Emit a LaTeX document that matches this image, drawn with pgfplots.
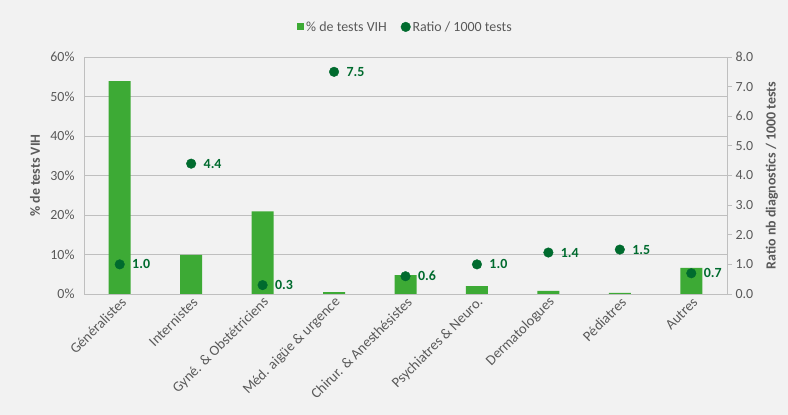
\documentclass[border=0pt]{standalone}
\usepackage{pgfplots}
\pgfplotsset{compat=1.18}
\usepackage{pgfplotstable}
\usepackage{fontspec}
\setmainfont{Carlito}

\definecolor{bg}{HTML}{F2F2F2}
\definecolor{barg}{HTML}{3DAA35}
\definecolor{dotg}{HTML}{006B2E}
\definecolor{txt}{HTML}{595959}
\definecolor{gridc}{HTML}{BFBFBF}

% x: category index, pct: % de tests VIH, ratio: ratio / 1000 tests
\pgfplotstableread{
x pct ratio
0 53.9 1.0
1 9.9  4.4
2 20.9 0.3
3 0.5  7.5
4 4.8  0.6
5 2.0  1.0
6 0.8  1.4
7 0.3  1.5
8 6.6  0.7
}\data

\pgfplotsset{
  common/.style={
    scale only axis, width=643bp, height=237bp,
    at={(84bp,121bp)}, anchor=south west,
    xmin=-0.5, xmax=8.5,
    ymin=0,
    tick label style={font=\fontsize{14}{16}\selectfont, text=txt},
    label style={font=\fontsize{14}{16}\selectfont\bfseries, text=txt},
    /pgf/number format/assume math mode=true,
  }
}

\begin{document}
\begin{tikzpicture}
\fill[bg] (0,0) rectangle (788bp,415bp);
\useasboundingbox (0,0) rectangle (788bp,415bp);

\begin{axis}[common,
  ymax=60, ytick={0,10,...,60},
  yticklabel={\pgfmathprintnumber{\tick}\%},
  yticklabel style={xshift=-6bp},
  axis x line*=bottom, axis y line*=left,
  axis line style={draw=gridc, line width=0.8pt},
  ymajorgrids, grid style={draw=gridc, line width=0.8pt},
  major tick length=0pt,
  xtick={0,...,8},
  xticklabels={Généralistes, Internistes, Gyné. \& Obstétriciens, Méd. aigüe \& urgence, Chirur. \& Anesthésistes, Psychiatres \& Neuro., Dermatologues, Pédiatres, Autres},
  xticklabel style={rotate=45, anchor=east, yshift=-7bp, xshift=2bp,
    font=\fontsize{14.5}{16}\selectfont},
  ylabel={\% de tests VIH},
  ylabel style={at={(axis description cs:-0.076,0.5)}, anchor=center},
  legend columns=2,
  legend style={at={(0.5,1.127)}, anchor=center, draw=none, fill=none,
    font=\fontsize{14}{16}\selectfont, text=txt,
    /tikz/every even column/.append style={column sep=12bp}},
]
\addplot[ybar, bar width=22bp, fill=barg, draw=none,
  legend image code/.code={\fill[barg] (0bp,-3.5bp) rectangle (7bp,3.5bp);}]
  table[x=x, y=pct] {\data};
\addlegendentry{\% de tests VIH}
\addlegendimage{only marks, mark=*, mark size=4.8bp, dotg}
\addlegendentry{Ratio / 1000 tests}
\end{axis}

\begin{axis}[common,
  ymax=8, ytick={0,1,...,8},
  /pgf/number format/.cd, fixed, fixed zerofill, precision=1, /pgfplots/.cd,
  axis x line=none, axis y line*=right,
  axis line style={draw=gridc, line width=0.8pt},
  ytick style={draw=gridc, line width=0.8pt},
  tick align=outside, major tick length=5bp,
  ylabel={Ratio nb diagnostics / 1000 tests},
  ylabel style={at={(axis description cs:1.070,0.5)}, anchor=center},
]
\addplot[only marks, mark=*, mark size=4.8bp, color=dotg,
  point meta=explicit,
  nodes near coords={\pgfmathprintnumber[fixed,fixed zerofill,precision=1]{\pgfplotspointmeta}},
  every node near coord/.append style={anchor=west, xshift=9bp,
    font=\fontsize{14}{16}\selectfont\bfseries, text=dotg}]
  table[x=x, y=ratio, meta=ratio] {\data};
\end{axis}
\end{tikzpicture}
\end{document}
